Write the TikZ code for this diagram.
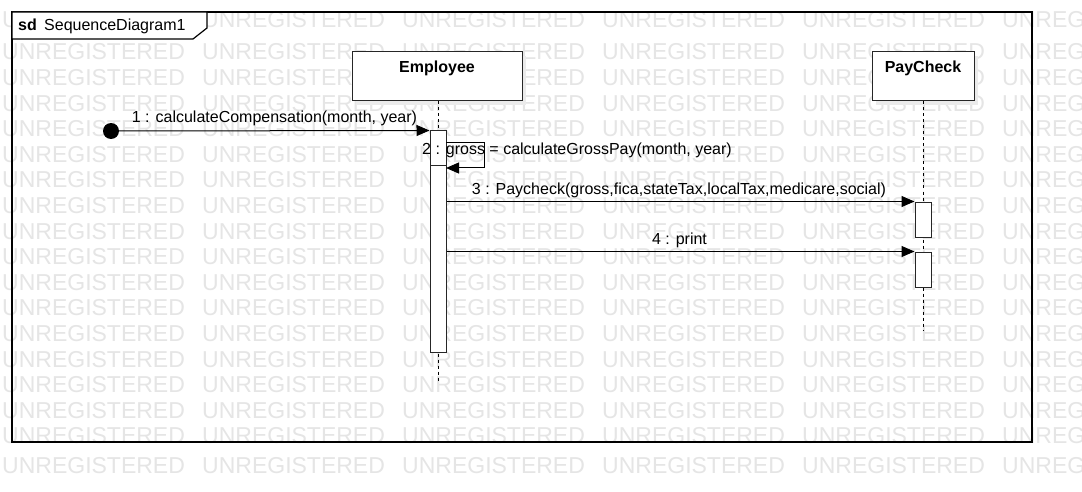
\documentclass[tikz,border=0pt]{standalone}
\usepackage{fontspec}
\setmainfont{Liberation Sans}
\usetikzlibrary{arrows.meta,shadows}
\begin{document}
\begin{tikzpicture}[x=1pt,y=-1pt,
  wm/.style={anchor=west,inner sep=0pt,text=black!10,font=\fontsize{23}{23}\selectfont},
  lbl/.style={anchor=base,inner sep=0pt,font=\fontsize{16}{19}\selectfont},
  headtxt/.style={anchor=base,inner sep=0pt,font=\fontsize{16}{19}\selectfont\bfseries},
  lifebox/.style={draw=black!85,line width=1pt,fill=white,inner sep=0pt,
    drop shadow={shadow xshift=4pt,shadow yshift=-4pt,fill=black!8,opacity=1}},
  actbar/.style={draw=black!85,line width=1pt,fill=white,inner sep=0pt,minimum width=16pt},
  lifeline/.style={draw=black,line width=1pt,dash pattern=on 3pt off 3pt},
  msg/.style={draw=black,line width=1pt,-{Triangle[length=13pt,width=11pt]}},
  framebox/.style={draw=black,line width=1.2pt}
]
\useasboundingbox (0,0) rectangle (1082,492);
\clip (0,0) rectangle (1082,492);
\fill[white] (0,0) rectangle (1082,492);
% watermark
\foreach \i in {0,...,5}{
  \node[wm] (wmt-\i) at (2+200*\i,20) {UNREGISTERED};
  \node[wm] (wmb-\i) at (2+200*\i,466) {UNREGISTERED};
  \foreach \k in {0,...,15}{
    \node[wm] (wm-\i-\k) at (2+200*\i,52+25.6*\k) {UNREGISTERED};
  }
}
% frame
\draw[framebox] (12,12) rectangle (1032,442);
\draw[framebox,fill=white] (12,12) -- (207,12) -- (207,28) -- (193,39) -- (12,39) -- cycle;
\node[anchor=base west,inner sep=0pt,font=\fontsize{16}{19}\selectfont\bfseries] (sd) at (18,31) {sd};
\node[anchor=base west,inner sep=0pt,font=\fontsize{16}{19}\selectfont] (sdname) at (44,31) {SequenceDiagram1};
% lifeline heads
\node[lifebox,minimum width=170pt,minimum height=49pt] (emp) at (437,76.5) {};
\node[headtxt] (empname) at (437,73) {Employee};
\node[lifebox,minimum width=102pt,minimum height=49pt] (pay) at (923,76.5) {};
\node[headtxt] (payname) at (923,73) {PayCheck};
% lifelines
\coordinate (empend) at (438,382);
\coordinate (payend) at (923,330);
\draw[lifeline] (emp.south -| empend) -- (empend);
\draw[lifeline] (pay.south) -- (payend);
% activation bars
\node[actbar,minimum height=221pt] (act1) at (438,241.5) {};
\coordinate (nest) at (430,166);
\draw[draw=black!85,line width=1pt] (nest) -- ++(16,0);
\node[actbar,minimum height=35pt] (act2) at (923,219.5) {};
\node[actbar,minimum height=35pt] (act3) at (923,269.5) {};
% message 1
\node[circle,fill=black,inner sep=0pt,minimum size=16pt] (start) at (111,131) {};
\draw[msg] (start.center) -- (act1.north west);
\node[lbl] (m1) at (274.5,123) {1 : calculateCompensation(month, year)};
% message 2 (self)
\coordinate (s2a) at (446,143);
\coordinate (s2b) at (446,168);
\draw[msg] (s2a) -- ++(38,0) |- (s2b);
\node[lbl] (m2) at (577,155) {2 : gross = calculateGrossPay(month, year)};
% message 3
\draw[msg] (act1.east |- act2.north) -- (act2.north west);
\node[lbl] (m3) at (679,194) {3 : Paycheck(gross,fica,stateTax,localTax,medicare,social)};
% message 4
\draw[msg] (act1.east |- act3.north) -- (act3.north west);
\node[lbl] (m4) at (679.5,244) {4 : print};
\end{tikzpicture}
\end{document}
